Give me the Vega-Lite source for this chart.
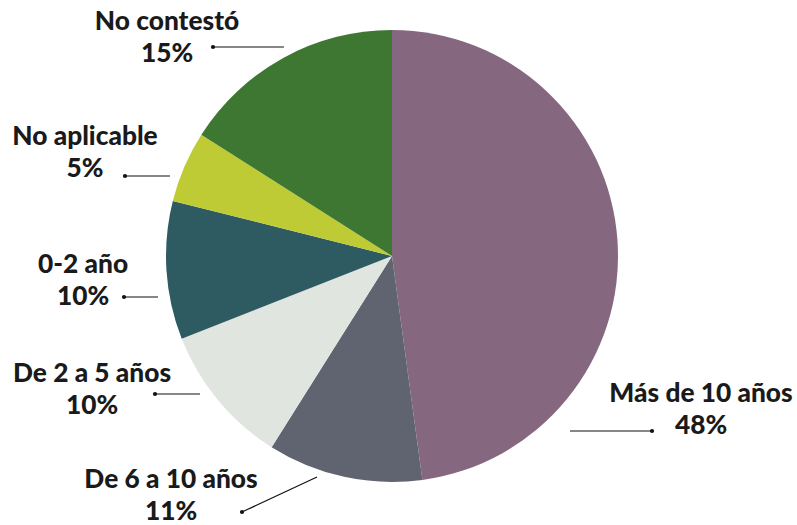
{
  "$schema": "https://vega.github.io/schema/vega-lite/v6.json",
  "width": 784,
  "height": 512,
  "autosize": {"type": "none"},
  "padding": {"left": 0, "top": 0, "right": 13, "bottom": 13},
  "background": "white",
  "config": {"view": {"stroke": null}},
  "datasets": {
    "respuestas": [
      {"categoria": "Más de 10 años", "porcentaje": 47.9, "orden": 1},
      {"categoria": "De 6 a 10 años", "porcentaje": 11.1, "orden": 2},
      {"categoria": "De 2 a 5 años", "porcentaje": 10.1, "orden": 3},
      {"categoria": "0-2 año", "porcentaje": 9.9, "orden": 4},
      {"categoria": "No aplicable", "porcentaje": 5.1, "orden": 5},
      {"categoria": "No contestó", "porcentaje": 16.0, "orden": 6}
    ],
    "etiquetas": [
      {"texto": "No contestó\n15%", "x": 167, "y": 30},
      {"texto": "No aplicable\n5%", "x": 85, "y": 145},
      {"texto": "0-2 año\n10%", "x": 83, "y": 273},
      {"texto": "De 2 a 5 años\n10%", "x": 92, "y": 382},
      {"texto": "De 6 a 10 años\n11%", "x": 171, "y": 488},
      {"texto": "Más de 10 años\n48%", "x": 701, "y": 402}
    ],
    "guias": [
      {"x": 213, "y": 47, "x2": 284, "y2": 47},
      {"x": 125, "y": 176, "x2": 170, "y2": 176},
      {"x": 124, "y": 297, "x2": 158, "y2": 297},
      {"x": 155, "y": 394, "x2": 200, "y2": 394},
      {"x": 242, "y": 512, "x2": 317, "y2": 477},
      {"x": 652, "y": 431, "x2": 570, "y2": 431}
    ]
  },
  "layer": [
    {
      "data": {"name": "respuestas"},
      "mark": {"type": "arc", "radius": 226, "stroke": null},
      "encoding": {
        "theta": {"field": "porcentaje", "type": "quantitative", "stack": true},
        "order": {"field": "orden", "type": "quantitative"},
        "color": {
          "field": "categoria",
          "type": "nominal",
          "scale": {
            "domain": ["Más de 10 años", "De 6 a 10 años", "De 2 a 5 años", "0-2 año", "No aplicable", "No contestó"],
            "range": ["#866780", "#5f6470", "#e0e6df", "#2e5a62", "#bfcb34", "#3d7731"]
          },
          "legend": null
        }
      }
    },
    {
      "data": {"name": "guias"},
      "mark": {"type": "rule", "color": "#111111", "strokeWidth": 1.2},
      "encoding": {
        "x": {"field": "x", "type": "quantitative", "scale": {"domain": [0, 784], "nice": false, "zero": false}, "axis": null},
        "y": {"field": "y", "type": "quantitative", "scale": {"domain": [0, 512], "nice": false, "zero": false, "reverse": true}, "axis": null},
        "x2": {"field": "x2"},
        "y2": {"field": "y2"}
      }
    },
    {
      "data": {"name": "guias"},
      "mark": {"type": "circle", "color": "#111111", "size": 18, "opacity": 1},
      "encoding": {
        "x": {"field": "x", "type": "quantitative", "scale": {"domain": [0, 784], "nice": false, "zero": false}, "axis": null},
        "y": {"field": "y", "type": "quantitative", "scale": {"domain": [0, 512], "nice": false, "zero": false, "reverse": true}, "axis": null}
      }
    },
    {
      "data": {"name": "etiquetas"},
      "mark": {"type": "text", "font": "Lato", "fontWeight": 900, "fontSize": 26.3, "color": "#1a1a1a", "align": "center", "baseline": "alphabetic", "lineBreak": "\n", "lineHeight": 31.5},
      "encoding": {
        "x": {"field": "x", "type": "quantitative", "scale": {"domain": [0, 784], "nice": false, "zero": false}, "axis": null},
        "y": {"field": "y", "type": "quantitative", "scale": {"domain": [0, 512], "nice": false, "zero": false, "reverse": true}, "axis": null},
        "text": {"field": "texto"}
      }
    }
  ]
}
